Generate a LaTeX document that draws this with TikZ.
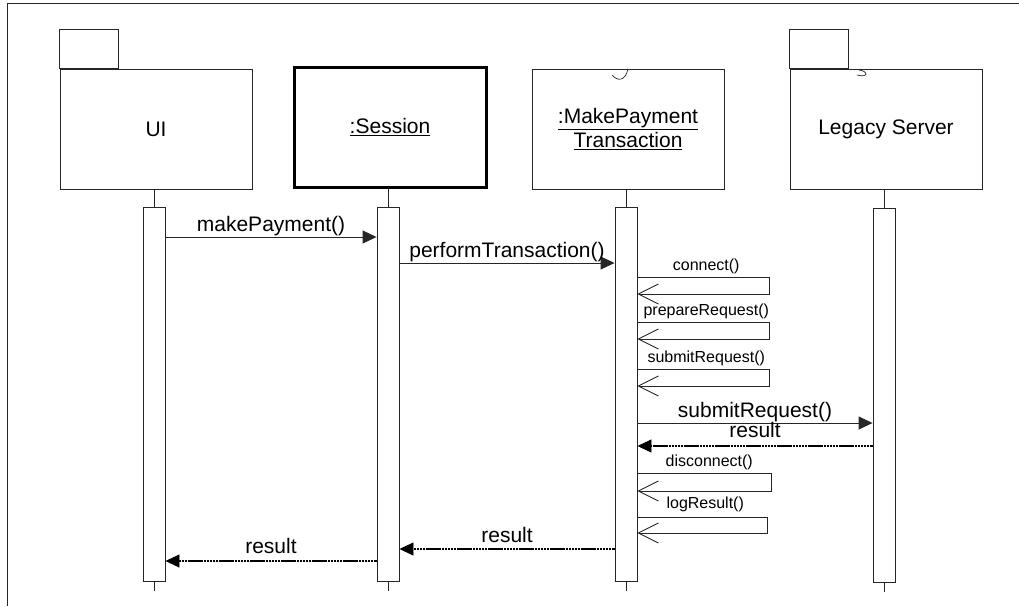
\documentclass[tikz,border=0pt]{standalone}
\usepackage{fontspec}
\setmainfont{Liberation Sans}
\usetikzlibrary{arrows.meta,calc}
\begin{document}
\begin{tikzpicture}[x=1pt, y=-1pt, line width=0.9pt, draw=black!85,
  big/.style={font=\fontsize{21}{24}\selectfont},
  small/.style={font=\fontsize{16}{19}\selectfont},
  obj/.style={draw, rectangle, minimum width=192pt, minimum height=120pt,
    inner sep=0pt, align=center, big},
  act/.style={draw, fill=white, rectangle, minimum width=22pt,
    minimum height=374pt, inner sep=0pt},
  call/.style={-{Triangle[length=14pt, width=13pt]}},
  ret/.style={-{Triangle[length=14pt, width=13pt, line width=0.9pt]},
    draw=black, line width=1.3pt, dash pattern=on 2.5pt off 0.6pt},
  selfcall/.style={-{Straight Barb[length=20pt, width=20pt, line width=0.9pt]}},
  lbl/.style={midway, anchor=base, yshift=6pt, inner sep=0pt, big},
  slbl/.style={midway, anchor=base, yshift=7pt, xshift=3pt, inner sep=0pt, small},
]
\useasboundingbox (0,0) rectangle (1019,606);

% outer frame (left and top edges)
\draw (7,606) -- (7,3) -- (1019,3);

% participants
\node[obj] (ui) at (156,129) {UI};
\draw (ui.north west) rectangle ++(59,-39);
\node[obj, line width=3pt, draw=black] (sess) at (390,127) {\underline{:Session}};
\node[obj] (mt) at (628,129) {\underline{:MakePayment}\\\underline{Transaction}};
\draw[line width=0.7pt] (612,75) .. controls (617,81) and (625,82) .. (628,69);
\node[obj] (ls) at (886,129) {Legacy Server};
\draw (ls.north west) rectangle ++(59,-39);
\draw[line width=0.7pt] (859,70) .. controls (868,71) and (869,78) .. (857,75);

% activation bars
\node[act] (uiAct) at (154,394) {};
\node[act] (sessAct) at (388,394) {};
\node[act] (mtAct) at (626,394) {};
\node[act] (lsAct) at (884,395) {};

% lifelines above and below the bars
\foreach \o/\a in {ui/uiAct, sess/sessAct, mt/mtAct, ls/lsAct} {
  \draw (\a.north |- \o.south) -- (\a.north);
  \coordinate (\a-end) at ($(\a.south)+(0,10)$);
  \draw (\a.south) -- (\a-end);
}

% message levels
\coordinate (m1) at (0,237);
\coordinate (m2) at (0,263);
\coordinate (m3) at (0,423);
\coordinate (m4) at (0,446);
\coordinate (m5) at (0,549);
\coordinate (m6) at (0,561);

% calls and returns
\draw[call] (uiAct.east |- m1) -- node[lbl] {makePayment()} (sessAct.west |- m1);
\draw[call] (sessAct.east |- m2) -- node[lbl] {performTransaction()} (mtAct.west |- m2);
\draw[call] (mtAct.east |- m3) -- node[lbl] {submitRequest()} (lsAct.west |- m3);
\draw[ret] (lsAct.west |- m4) -- node[lbl, yshift=3pt] {result} (mtAct.east |- m4);
\draw[ret] (mtAct.west |- m5) -- node[lbl, yshift=1pt] {result} (sessAct.east |- m5);
\draw[ret] (sessAct.west |- m6) -- node[lbl, yshift=2pt] {result} (uiAct.east |- m6);

% self calls on the transaction
\coordinate (s1a) at (769,277); \coordinate (s1b) at (769,294);
\coordinate (s2a) at (769,322); \coordinate (s2b) at (769,339);
\coordinate (s3a) at (769,369); \coordinate (s3b) at (769,386);
\coordinate (s4a) at (771,473); \coordinate (s4b) at (771,491);
\coordinate (s5a) at (767,517); \coordinate (s5b) at (767,533);

\draw[selfcall] (mtAct.east |- s1a) -- node[slbl] {connect()} (s1a) -- (s1b) -- (mtAct.east |- s1b);
\draw[selfcall] (mtAct.east |- s2a) -- node[slbl] {prepareRequest()} (s2a) -- (s2b) -- (mtAct.east |- s2b);
\draw[selfcall] (mtAct.east |- s3a) -- node[slbl] {submitRequest()} (s3a) -- (s3b) -- (mtAct.east |- s3b);
\draw[selfcall] (mtAct.east |- s4a) -- node[slbl, xshift=2pt] {disconnect()} (s4a) -- (s4b) -- (mtAct.east |- s4b);
\draw[selfcall] (mtAct.east |- s5a) -- node[slbl, yshift=2pt] {logResult()} (s5a) -- (s5b) -- (mtAct.east |- s5b);
\end{tikzpicture}
\end{document}
